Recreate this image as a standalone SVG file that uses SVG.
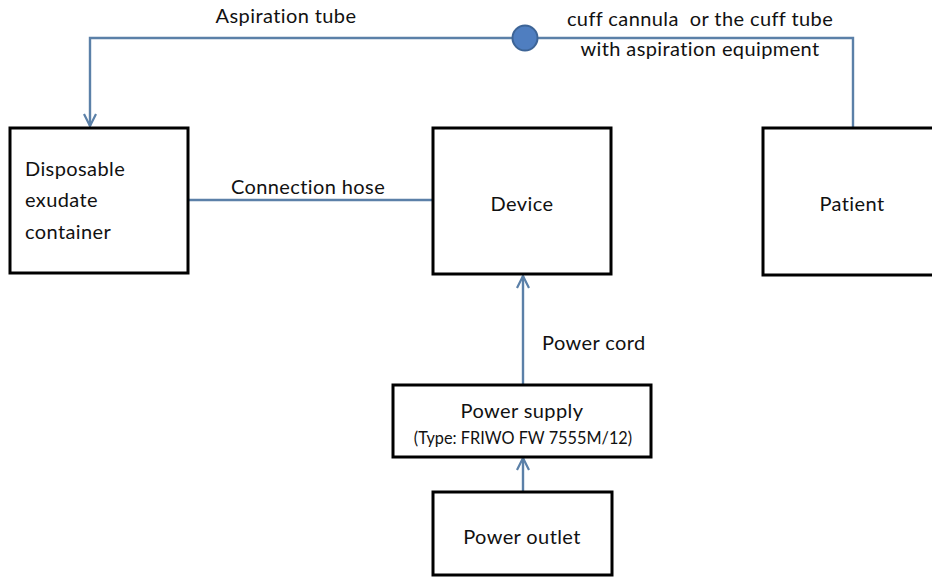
<svg xmlns="http://www.w3.org/2000/svg" width="932" height="578" viewBox="0 0 932 578">
<defs>
<style>
.box{fill:#fff;stroke:#000;stroke-width:3}
.ln{fill:none;stroke:#5b80a8;stroke-width:2.4}
.t{font-family:Lato,"Open Sans","Liberation Sans",sans-serif;font-size:20px;letter-spacing:0.4px;fill:#111;white-space:pre}
.s{font-family:Lato,"Open Sans","Liberation Sans",sans-serif;font-size:16.3px;fill:#111}
</style>
<marker id="arr" viewBox="0 0 14 14" refX="13" refY="7" markerWidth="14" markerHeight="14" markerUnits="userSpaceOnUse" orient="auto">
<path d="M1,1 L13,7 L1,13" fill="none" stroke="#5b80a8" stroke-width="2.2"/>
</marker>
</defs>
<rect width="932" height="578" fill="#fff"/>
<g id="connectors">
<path class="ln" d="M512,38 H90 V126" marker-end="url(#arr)"/>
<path class="ln" d="M538,38 H853 V127"/>
<circle cx="525" cy="38" r="12.5" fill="#4f7ec0" stroke="#3d6496" stroke-width="2"/>
<line class="ln" x1="188" y1="200" x2="433" y2="200"/>
<line class="ln" x1="523" y1="385" x2="523" y2="276" marker-end="url(#arr)"/>
<line class="ln" x1="523" y1="492" x2="523" y2="458" marker-end="url(#arr)"/>
<text class="t" x="286" y="23" text-anchor="middle">Aspiration tube</text>
<text class="t" x="700" y="26" text-anchor="middle" xml:space="preserve">cuff cannula  or the cuff tube</text>
<text class="t" x="700" y="56" text-anchor="middle">with aspiration equipment</text>
<text class="t" x="308" y="194" text-anchor="middle">Connection hose</text>
<text class="t" x="542" y="350">Power cord</text>
</g>
<g id="disposable">
<rect class="box" x="10" y="128" width="178" height="145"/>
<text class="t" x="25" y="176">Disposable</text>
<text class="t" x="25" y="207">exudate</text>
<text class="t" x="25" y="239">container</text>
</g>
<g id="device">
<rect class="box" x="433" y="128" width="178" height="146"/>
<text class="t" x="522" y="211" text-anchor="middle">Device</text>
</g>
<g id="patient">
<rect class="box" x="763" y="128" width="175" height="147"/>
<text class="t" x="852" y="211" text-anchor="middle">Patient</text>
</g>
<g id="power-supply">
<rect class="box" x="393" y="385" width="258" height="72"/>
<text class="t" x="522" y="418" text-anchor="middle">Power supply</text>
<text class="s" x="523" y="444" text-anchor="middle">(Type: FRIWO FW 7555M/12)</text>
</g>
<g id="power-outlet">
<rect class="box" x="433" y="492" width="179" height="83"/>
<text class="t" x="522" y="544" text-anchor="middle">Power outlet</text>
</g>
</svg>
